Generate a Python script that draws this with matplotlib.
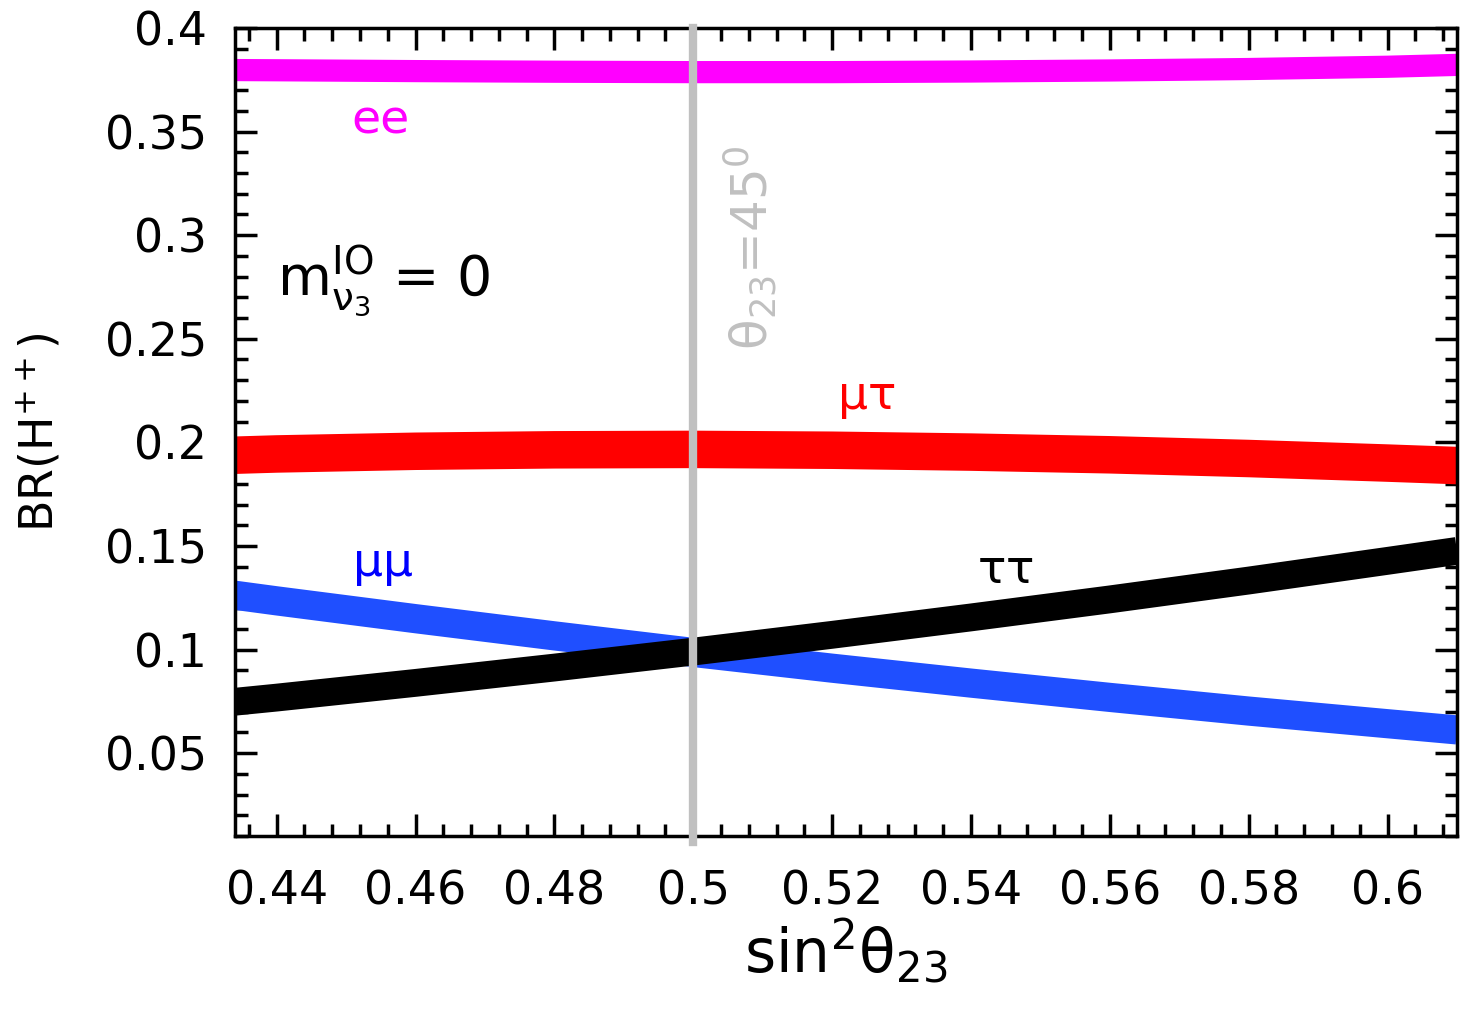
import numpy as np
import matplotlib

matplotlib.use("Agg")
import matplotlib.pyplot as plt

plt.rcParams["font.family"] = ["DejaVu Sans"]
plt.rcParams["mathtext.default"] = "regular"

# sin^2(theta_23) sample points and branching ratios
s23 = [0.434, 0.44, 0.46, 0.48, 0.5, 0.52, 0.54, 0.56, 0.58, 0.6, 0.61]
br_ee = [0.3797, 0.3796, 0.3792, 0.3789, 0.3787, 0.3787, 0.3790, 0.3795, 0.3802, 0.3813, 0.3822]
br_mutau = [0.1938, 0.1944, 0.1957, 0.1964, 0.1966, 0.1962, 0.1953, 0.1940, 0.1922, 0.1900, 0.1888]
br_mumu = [0.1262, 0.1235, 0.1149, 0.1066, 0.0986, 0.0910, 0.0838, 0.0769, 0.0703, 0.0642, 0.0612]
br_tautau = [0.0748, 0.0768, 0.0839, 0.0913, 0.0990, 0.1071, 0.1155, 0.1242, 0.1333, 0.1428, 0.1476]

XLIM = (0.434, 0.61)
YLIM = (0.01, 0.4)

fig = plt.figure(figsize=(14.79, 10.11), dpi=100)
ax = fig.add_axes([0.1589, 0.1731, 0.8262, 0.7992])

ax.axvline(0.5, ymin=-0.008, ymax=1.0, color="#c0c0c0", lw=6, zorder=3, clip_on=False)
ax.plot(s23, br_ee, color="#ff00ff", lw=16, solid_capstyle="butt", zorder=2)
ax.plot(s23, br_mutau, color="#ff0000", lw=27, solid_capstyle="butt", zorder=2)
ax.plot(s23, br_mumu, color="#1f4fff", lw=21, solid_capstyle="butt", zorder=2)
ax.plot(s23, br_tautau, color="black", lw=20, solid_capstyle="butt", zorder=2.5)

ax.text(0.455, 0.355, "ee", color="#ff00ff", fontsize=34, ha="center", va="center")
ax.text(0.5249, 0.221, r"$\mu\tau$", color="#ff0000", fontsize=34, ha="center", va="center")
ax.text(0.4553, 0.1405, r"$\mu\mu$", color="#0000ff", fontsize=34, ha="center", va="center")
ax.text(0.5449, 0.138, r"$\tau\tau$", color="black", fontsize=34, ha="center", va="center")
ax.text(0.4401, 0.2775, r"$m_{\nu_3}^{IO}$ = 0", color="black", fontsize=40,
        ha="left", va="center")
ax.text(0.5082, 0.2942, r"$\theta_{23}$=$45^0$", color="#c0c0c0", fontsize=36,
        rotation=90, ha="center", va="center")

ax.set_xlim(*XLIM)
ax.set_ylim(*YLIM)
ax.set_xticks([0.44, 0.46, 0.48, 0.5, 0.52, 0.54, 0.56, 0.58, 0.6])
ax.set_xticklabels(["0.44", "0.46", "0.48", "0.5", "0.52", "0.54", "0.56", "0.58", "0.6"])
ax.set_xticks(np.arange(0.436, 0.61, 0.004), minor=True)
ax.set_yticks([0.05, 0.1, 0.15, 0.2, 0.25, 0.3, 0.35, 0.4])
ax.set_yticklabels(["0.05", "0.1", "0.15", "0.2", "0.25", "0.3", "0.35", "0.4"])
ax.set_yticks(np.arange(0.01, 0.401, 0.01), minor=True)

ax.tick_params(which="both", direction="in", top=True, right=True, width=2.5)
ax.tick_params(which="major", length=16, labelsize=33)
ax.tick_params(axis="x", which="major", pad=24)
ax.tick_params(axis="y", which="major", pad=20)
ax.tick_params(which="minor", length=9)
for sp in ax.spines.values():
    sp.set_linewidth(2.5)

ax.set_xlabel(r"$sin^2\theta_{23}$", fontsize=43, labelpad=2)
ax.set_ylabel(r"BR(H$^{++}$)", fontsize=33, labelpad=30)

fig.savefig("out.png", dpi=100)
